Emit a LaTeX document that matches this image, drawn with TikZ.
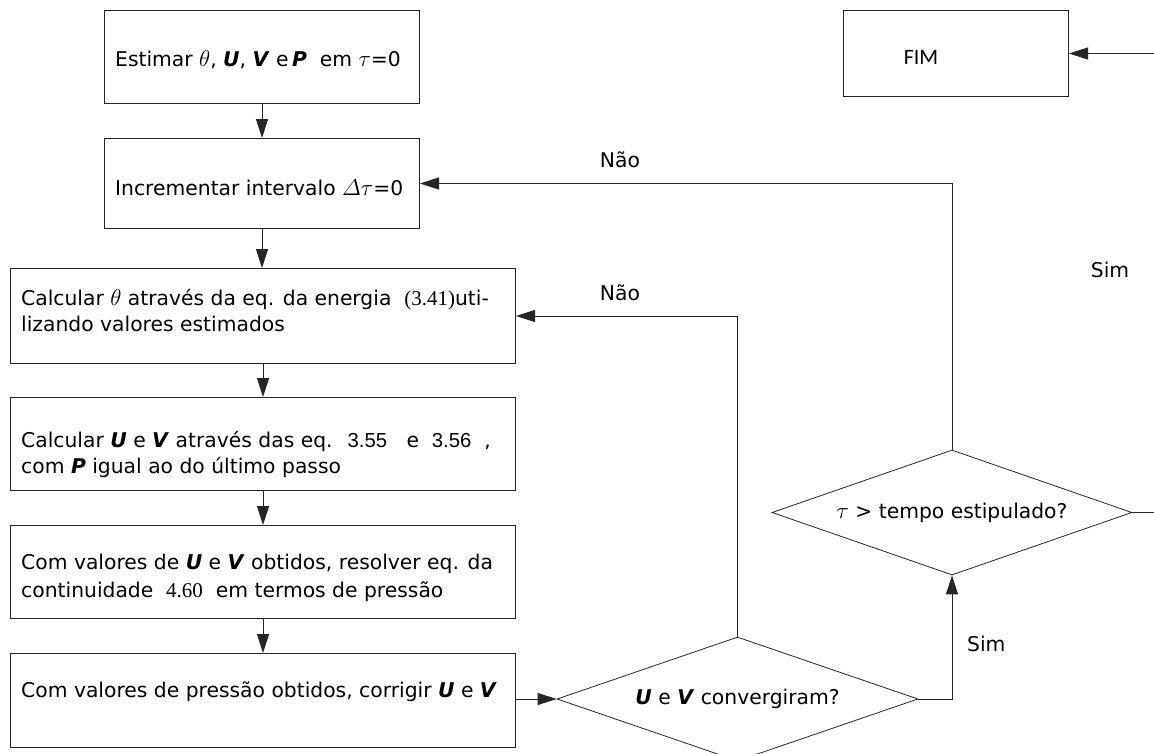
\RequirePackage{fix-cm}
\documentclass[tikz,border=0pt]{standalone}
\usepackage{fontspec}
\setmainfont{DejaVu Sans}
\newfontfamily\carlito{Carlito}
\newfontfamily\lsans{Liberation Sans}
\newfontfamily\lserif{Liberation Serif}
\usetikzlibrary{shapes.geometric,arrows.meta}
\newcommand{\bv}[1]{\textbf{\textit{#1}}}
\newcommand{\mth}[1]{{\fontsize{23}{26}\selectfont$#1$}}
\tikzset{
  box/.style={draw=black!85, line width=1pt, rectangle, inner sep=0pt, anchor=north west},
  dia/.style={draw=black!85, line width=0.8pt, diamond, inner sep=0pt, aspect=2.9},
  txt/.style={anchor=base west, inner sep=0pt},
  lbl/.style={anchor=base, inner sep=0pt},
  arr/.style={draw=black!85, line width=1pt, -{Triangle[length=19pt,width=12pt]}},
  ln/.style={draw=black!85, line width=1pt}
}
\begin{document}
\begin{tikzpicture}[x=1pt,y=-1pt,font=\fontsize{20.3}{26}\selectfont]
\useasboundingbox (0,0) rectangle (1154,753);
\clip (0,0) rectangle (1154,753);
\fill[white] (0,0) rectangle (1154,753);
% boxes
\node[box, minimum width=315pt, minimum height=93pt] (b1) at (104,10) {};
\node[box, minimum width=315pt, minimum height=90pt] (b2) at (104,138) {};
\node[box, minimum width=505pt, minimum height=95pt] (b3) at (10,268) {};
\node[box, minimum width=505pt, minimum height=93pt] (b4) at (10,397) {};
\node[box, minimum width=505pt, minimum height=93pt] (b5) at (10,525) {};
\node[box, minimum width=505pt, minimum height=94pt] (b6) at (10,653) {};
\node[box, minimum width=225pt, minimum height=86pt] (fim) at (843,10) {};
% diamonds
\node[dia, minimum width=361pt, minimum height=124pt] (d1) at (737.5,699) {\bv{U} e \bv{V} convergiram?};
\node[dia, minimum width=360pt, minimum height=125pt] (d2) at (952,512.5) {\mth{\tau} > tempo estipulado?};
% texts
\node[txt] (t1) at (115,66) {Estimar \mth{\theta}, \bv{U}, \bv{V} e\,\bv{P} \ em \mth{\tau}=0};
\node[txt] (t2) at (115,195) {Incrementar intervalo \mth{\mathnormal{\Delta}\tau}=0};
\node[txt] (t3a) at (21,305) {Calcular \mth{\theta} através da eq. da energia \ {\lserif\fontsize{21}{26}\selectfont (3.41)}uti-};
\node[txt] (t3b) at (21,331) {lizando valores estimados};
\node[txt] (t4a) at (21,447) {Calcular \bv{U} e \bv{V} através das eq. \ {\lsans 3.55} \ \ e \ {\lsans 3.56} \ ,};
\node[txt] (t4b) at (21,473) {com \bv{P} igual ao do último passo};
\node[txt] (t5a) at (21,569) {Com valores de \bv{U} e \bv{V} obtidos, resolver eq. da};
\node[txt] (t5b) at (21,597) {continuidade \ {\lserif\fontsize{21}{26}\selectfont 4.60} \ em termos de pressão};
\node[txt] (t6) at (21,697) {Com valores de pressão obtidos, corrigir \bv{U} e \bv{V}};
\node[inner sep=0pt, font=\carlito\fontsize{22}{26}\selectfont] (tf) at (921,57) {FIM};
% labels
\node[lbl] (n1) at (620,167) {Não};
\node[lbl] (n2) at (620,300) {Não};
\node[lbl] (s1) at (1110,277) {Sim};
\node[txt] (s2) at (967,651) {Sim};
% connectors
\draw[arr] (b1) -- (b2);
\draw[arr] (b2.south) -- (b2.south |- b3.north);
\draw[arr] (b3) -- (b4);
\draw[arr] (b4) -- (b5);
\draw[arr] (b5) -- (b6);
\draw[arr] (b6.east |- d1.west) -- (d1.west);
\draw[arr] (d1.north) |- (b3.east);
\draw[arr] (d1.east) -| (d2.south);
\draw[arr] (d2.north) |- (b2.east);
\coordinate (rc) at (1175,0);
\draw[arr] (d2.east) -- (rc |- d2.east) -- (rc |- fim.east) -- (fim.east);
\end{tikzpicture}
\end{document}
